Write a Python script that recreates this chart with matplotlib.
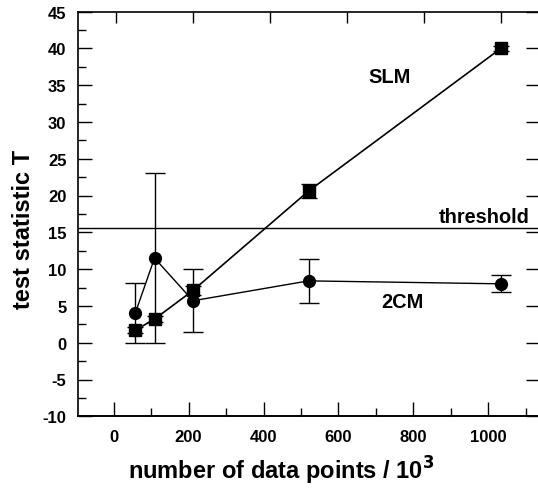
import matplotlib
matplotlib.use("Agg")
import matplotlib.pyplot as plt
from matplotlib.ticker import MultipleLocator, FixedLocator

plt.rcParams['font.family'] = ['Liberation Sans', 'DejaVu Sans']
plt.rcParams['font.weight'] = 'bold'
plt.rcParams['axes.unicode_minus'] = False
plt.rcParams['mathtext.default'] = 'bf'

# data
n_points = [50, 100, 200, 500, 1000]
slm_T = [1.7, 3.2, 7.1, 20.6, 40.0]
slm_err = [0.4, 0.4, 0.6, 1.0, 0.3]
cm2_T = [4.0, 11.5, 5.7, 8.4, 8.0]
cm2_err = [4.1, 11.5, 4.25, 3.0, 1.15]
threshold = 15.6
x_ticks = [0, 200, 400, 600, 800, 1000]
x_minor = [100, 300, 500, 700, 900, 1100]

fig = plt.figure(figsize=(5.38, 4.89), dpi=100)
W, H = 538.0, 489.0
l, r, t, b = 77.5, 539.5, 12.5, 417.3
ax = fig.add_axes([l / W, (H - b) / H, (r - l) / W, (b - t) / H])

ax.errorbar(n_points, slm_T, yerr=slm_err, fmt='s-', color='black', ms=8.5,
            lw=1.2, elinewidth=1.0, capsize=5.5, capthick=1.0)
ax.errorbar(n_points, cm2_T, yerr=cm2_err, fmt='o-', color='black', ms=8.5,
            lw=1.0, elinewidth=1.0, capsize=7, capthick=1.0)
ax.axhline(threshold, color='black', lw=1.0)

ax.set_xlim(-100, 1100)
ax.set_ylim(-10, 45)

ax.text(711, 35.4, 'SLM', ha='center', va='baseline', fontsize=14.4, fontweight='bold')
ax.text(745, 4.8, '2CM', ha='center', va='baseline', fontsize=14.4, fontweight='bold')
ax.text(957, 16.45, 'threshold', ha='center', va='baseline', fontsize=14.4, fontweight='bold')

# y axis
ax.yaxis.set_major_locator(MultipleLocator(5))
ax.yaxis.set_minor_locator(MultipleLocator(2.5))
ax.tick_params(axis='y', which='major', direction='in', length=10, width=1.0,
               labelsize=12, pad=8, right=True, left=True)
ax.tick_params(axis='y', which='minor', direction='in', length=5.5, width=1.0,
               left=True, right=False)
for lab in ax.get_yticklabels():
    lab.set_fontweight('bold')

# top axis (primary x) ticks only
ax.xaxis.set_major_locator(FixedLocator(x_ticks))
ax.tick_params(axis='x', which='major', direction='in', length=8, width=1.0,
               top=True, bottom=False, labelbottom=False, labeltop=False)
ax.tick_params(axis='x', which='minor', top=False, bottom=False)

# bottom axis as drawn in the reference
sec = ax.secondary_xaxis('bottom', functions=(lambda x: (x + 6.0) / 0.973,
                                              lambda v: 0.973 * v - 6.0))
sec.xaxis.set_major_locator(FixedLocator(x_ticks))
sec.xaxis.set_minor_locator(FixedLocator(x_minor))
sec.tick_params(axis='x', which='major', direction='in', length=10, width=1.0,
                labelsize=12, pad=9)
sec.tick_params(axis='x', which='minor', direction='in', length=5.5, width=1.0)
for lab in sec.get_xticklabels():
    lab.set_fontweight('bold')
sec.set_xlabel('number of data points / 10$^{3}$', fontsize=17, fontweight='bold')
sec.xaxis.set_label_coords(281 / W, (H - 455) / H, transform=fig.transFigure)

ax.set_ylabel('test statistic T', fontsize=17, fontweight='bold')
ax.yaxis.set_label_coords(-0.092, 0.464)

for s in ax.spines.values():
    s.set_linewidth(1.2)
sec.spines['bottom'].set_linewidth(1.2)

fig.savefig('out.png', dpi=100)
